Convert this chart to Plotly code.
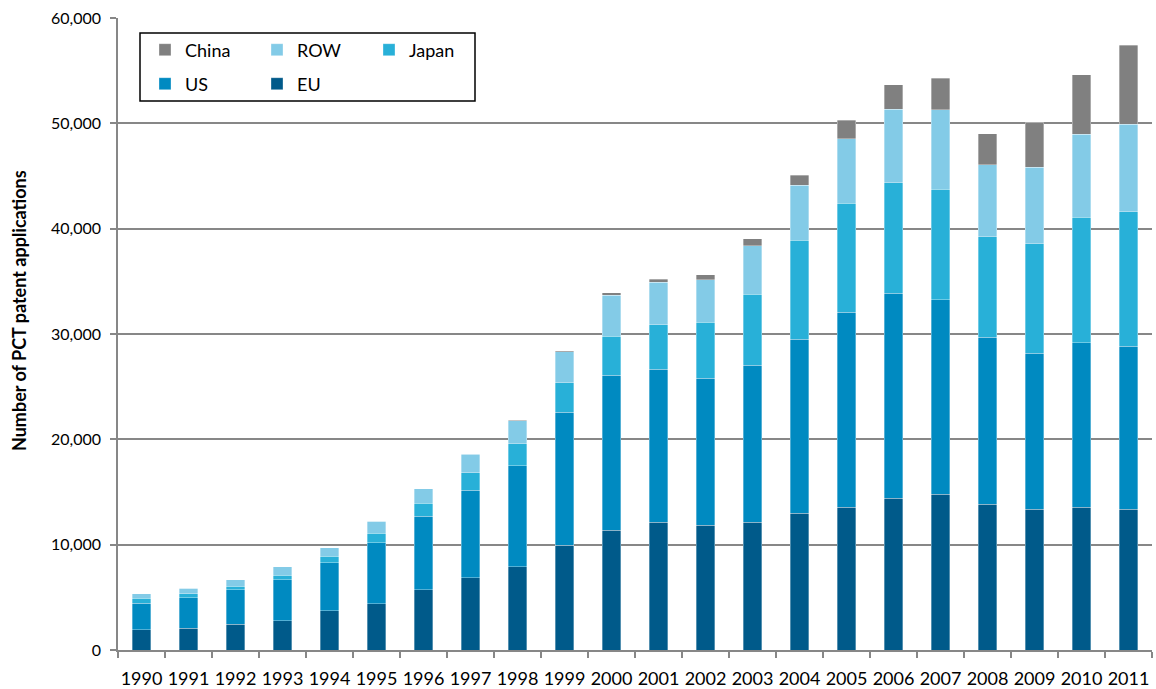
import plotly.graph_objects as go

# PCT patent applications by origin, 1990-2011
years = [str(y) for y in range(1990, 2012)]

eu = [1920, 2080, 2430, 2780, 3730, 4400, 5700, 6840, 7890, 9950, 11350,
      12110, 11830, 12110, 12970, 13560, 14430, 14790, 13850, 13370, 13560, 13340]
us = [2530, 2860, 3270, 3870, 4530, 5770, 7010, 8350, 9620, 12640, 14720,
      14530, 13960, 14920, 16540, 18500, 19440, 18460, 15840, 14790, 15630, 15520]
japan = [450, 420, 350, 450, 640, 920, 1240, 1650, 2070, 2790, 3720,
         4260, 5310, 6730, 9380, 10360, 10470, 10500, 9560, 10430, 11890, 12750]
row = [450, 480, 640, 790, 830, 1120, 1360, 1750, 2190, 2920, 3880,
       4000, 4030, 4600, 5240, 6140, 6980, 7560, 6830, 7230, 7890, 8290]
china = [0, 0, 0, 0, 0, 0, 0, 20, 50, 120, 260,
         290, 480, 670, 940, 1750, 2360, 2980, 2910, 4250, 5630, 7510]

y_ticks = [0, 10000, 20000, 30000, 40000, 50000, 60000]

FONT = "Lato"
GRID = "#878787"

# stacking order bottom -> top, with the legend each series goes to
series = [
    ("EU", eu, "#005A8A", "legend2"),
    ("US", us, "#008AC1", "legend2"),
    ("Japan", japan, "#28B0D8", "legend"),
    ("ROW", row, "#83CBE7", "legend"),
    ("China", china, "#808080", "legend"),
]

fig = go.Figure()
for name, vals, color, leg in series:
    fig.add_trace(go.Bar(
        x=years, y=vals, name=name, legend=leg,
        marker=dict(color=color, line=dict(color="rgba(255,255,255,0.55)", width=0.6)),
        hovertemplate="%{x}: %{y:,}<extra>" + name + "</extra>",
    ))

W, H = 1156, 689
ML, MR, MT, MB = 118, 4, 18, 39
PW, PH = W - ML - MR, H - MT - MB


def px_x(x):
    return (x - ML) / PW


def px_y(y):
    return (H - MB - y) / PH


legend_common = dict(
    orientation="h", traceorder="reversed",
    font=dict(family=FONT, size=18, color="#000000"),
    bgcolor="rgba(0,0,0,0)", borderwidth=0,
    entrywidth=67, entrywidthmode="pixels",
    xanchor="left", yanchor="middle", itemclick=False,
)

fig.update_layout(
    width=W, height=H,
    margin=dict(l=ML, r=MR, t=MT, b=MB),
    paper_bgcolor="white", plot_bgcolor="white",
    barmode="stack", bargap=0.6,
    font=dict(family=FONT, color="#000000"),
    legend=dict(x=px_x(145), y=px_y(50), **legend_common),
    legend2=dict(x=px_x(145), y=px_y(84), **legend_common),
    xaxis=dict(
        type="category", range=[-0.5, len(years) - 0.5],
        showline=True, linecolor=GRID, linewidth=1.5,
        ticks="outside", tickson="boundaries", ticklen=6, tickcolor=GRID, tickwidth=1.5,
        tickfont=dict(family=FONT, size=18, color="#000000"),
        tickangle=0, automargin=False,
        ticklabelstandoff=12,
        showgrid=False, zeroline=False,
    ),
    yaxis=dict(
        range=[0, 60000], tickvals=y_ticks, tickformat=",",
        showline=True, linecolor=GRID, linewidth=1.5,
        ticks="outside", ticklen=6, tickcolor=GRID, tickwidth=1.5,
        tickfont=dict(family=FONT, size=16, color="#000000"),
        ticklabelstandoff=6, automargin=False,
        showgrid=True, gridcolor=GRID, gridwidth=1.5,
        zeroline=False,
    ),
    shapes=[dict(
        type="rect", xref="paper", yref="paper",
        x0=px_x(140), x1=px_x(475), y0=px_y(101), y1=px_y(33),
        line=dict(color="#000000", width=1.5), fillcolor="rgba(0,0,0,0)",
    )],
    annotations=[dict(
        text="<b>Number of PCT patent applications</b>",
        xref="paper", yref="paper", x=px_x(19), y=px_y(311),
        xanchor="center", yanchor="middle",
        textangle=-90, showarrow=False,
        font=dict(family=FONT, size=18, color="#000000"),
    )],
)

fig.write_html("out.html")
